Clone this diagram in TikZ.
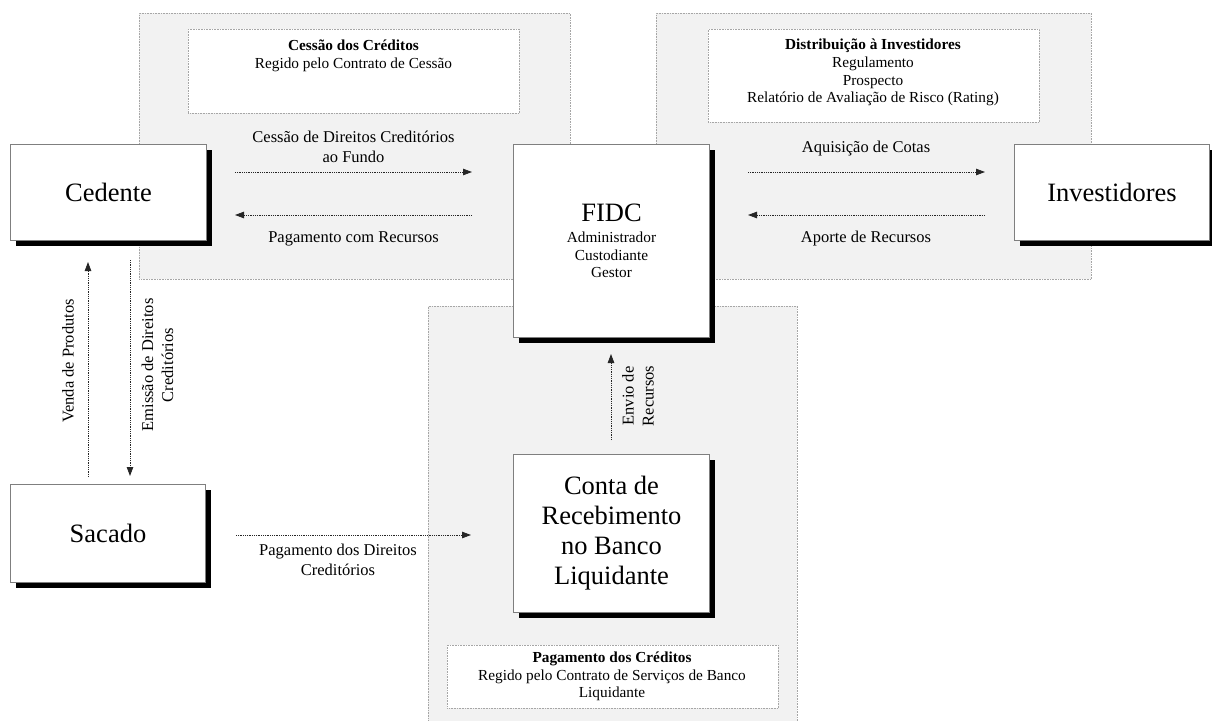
\documentclass[tikz,border=0pt]{standalone}
\usepackage{fontspec}
\setmainfont{Liberation Serif}
\usetikzlibrary{arrows.meta,shadows}
\definecolor{panelfill}{HTML}{F2F2F2}
\definecolor{paneledge}{HTML}{A6A6A6}
\definecolor{boxedge}{HTML}{7F7F7F}
\newcommand\fsBig{\fontsize{26.5}{30}\selectfont}
\newcommand\fsLab{\fontsize{16.5}{20}\selectfont}
\newcommand\fsNote{\fontsize{15.3}{17.7}\selectfont}
\begin{document}
\begin{tikzpicture}[x=1pt,y=-1pt,
  panel/.style={fill=panelfill, draw=paneledge, line width=0.8pt,
    dash pattern=on 0.8pt off 0.8pt, inner sep=0pt, anchor=north west},
  notebox/.style={fill=white, draw=paneledge, line width=0.8pt,
    dash pattern=on 0.8pt off 0.8pt, inner sep=0pt, anchor=north west},
  entity/.style={draw=boxedge, fill=white, line width=1pt, inner sep=0pt,
    align=center, anchor=north west,
    general shadow={fill=black, shadow xshift=5pt, shadow yshift=-5pt}},
  flow/.style={draw=black!85, line width=0.8pt, dash pattern=on 1pt off 0.8pt,
    -{Triangle[length=9pt,width=6.5pt]}},
  lab/.style={align=center, inner sep=0pt, font=\fsLab},
  notetext/.style={align=center, inner sep=0pt, font=\fsNote},
]
\useasboundingbox (0,0) rectangle (1212,720);

% shaded regions
\node[panel, minimum width=431pt, minimum height=266pt] (cessaoPanel) at (139,13) {};
\node[panel, minimum width=435pt, minimum height=266pt] (distPanel) at (656,13) {};
\node[panel, minimum width=369pt, minimum height=420pt] (pagPanel) at (428,306) {};

% contract notes
\node[notebox, minimum width=331pt, minimum height=84pt] (cessaoNote) at (188,29) {};
\node[notetext] (cessaoText) at (353.5,56) {\textbf{Cessão dos Créditos}\\Regido pelo Contrato de Cessão};
\node[notebox, minimum width=331pt, minimum height=93pt] (distNote) at (708,29) {};
\node[notetext] (distText) at (873,72.5) {\textbf{Distribuição à Investidores}\\Regulamento\\Prospecto\\Relatório de Avaliação de Risco (Rating)};
\node[notebox, minimum width=331pt, minimum height=63pt] (pagNote) at (447,645) {};
\node[notetext] (pagText) at (612,676.5) {\textbf{Pagamento dos Créditos}\\Regido pelo Contrato de Serviços de Banco\\Liquidante};

% parties
\node[entity, minimum width=196pt, minimum height=96pt, font=\fsBig] (cedente) at (10,144) {Cedente};
\node[entity, minimum width=196pt, minimum height=193pt, font=\fsNote] (fidc) at (513,144)
  {{\fsBig FIDC}\\[3pt]Administrador\\Custodiante\\Gestor};
\node[entity, minimum width=195pt, minimum height=96pt, font=\fsBig] (invest) at (1014,144) {Investidores};
\node[entity, minimum width=195pt, minimum height=98pt, font=\fsBig] (sacado) at (10,484) {Sacado};
\node[entity, minimum width=196pt, minimum height=158pt, font=\fsBig] (conta) at (513,454)
  {Conta de\\Recebimento\\no Banco\\Liquidante};

% flow end points
\coordinate (cesA) at (235,172);  \coordinate (cesB) at (472,172);
\coordinate (pgrA) at (472,215);  \coordinate (pgrB) at (235,215);
\coordinate (aqA) at (748,172);   \coordinate (aqB) at (985,172);
\coordinate (apA) at (985,215);   \coordinate (apB) at (748,215);
\coordinate (venA) at (88,477);   \coordinate (venB) at (88,262);
\coordinate (emA) at (130,260);   \coordinate (emB) at (130,476);
\coordinate (pdA) at (236,535);   \coordinate (pdB) at (471,535);
\coordinate (envA) at (611,440);  \coordinate (envB) at (611,354);

% flows
\draw[flow] (cesA) -- (cesB);
\draw[flow] (pgrA) -- (pgrB);
\draw[flow] (aqA) -- (aqB);
\draw[flow] (apA) -- (apB);
\draw[flow] (venA) -- (venB);
\draw[flow] (emA) -- (emB);
\draw[flow] (pdA) -- (pdB);
\draw[flow] (envA) -- (envB);

% flow labels
\node[lab] (cesLab) at (353.5,147) {Cessão de Direitos Creditórios\\ao Fundo};
\node[lab] (pgrLab) at (353.5,239) {Pagamento com Recursos};
\node[lab] (aqLab) at (866,149) {Aquisição de Cotas};
\node[lab] (apLab) at (866,239) {Aporte de Recursos};
\node[lab, rotate=90] (venLab) at (68,361) {Venda de Produtos};
\node[lab, rotate=90] (emLab) at (157.5,365) {Emissão de Direitos\\Creditórios};
\node[lab] (pdLab) at (338,560) {Pagamento dos Direitos\\Creditórios};
\node[lab, rotate=90] (envLab) at (638,396) {Envio de\\Recursos};
\end{tikzpicture}
\end{document}
